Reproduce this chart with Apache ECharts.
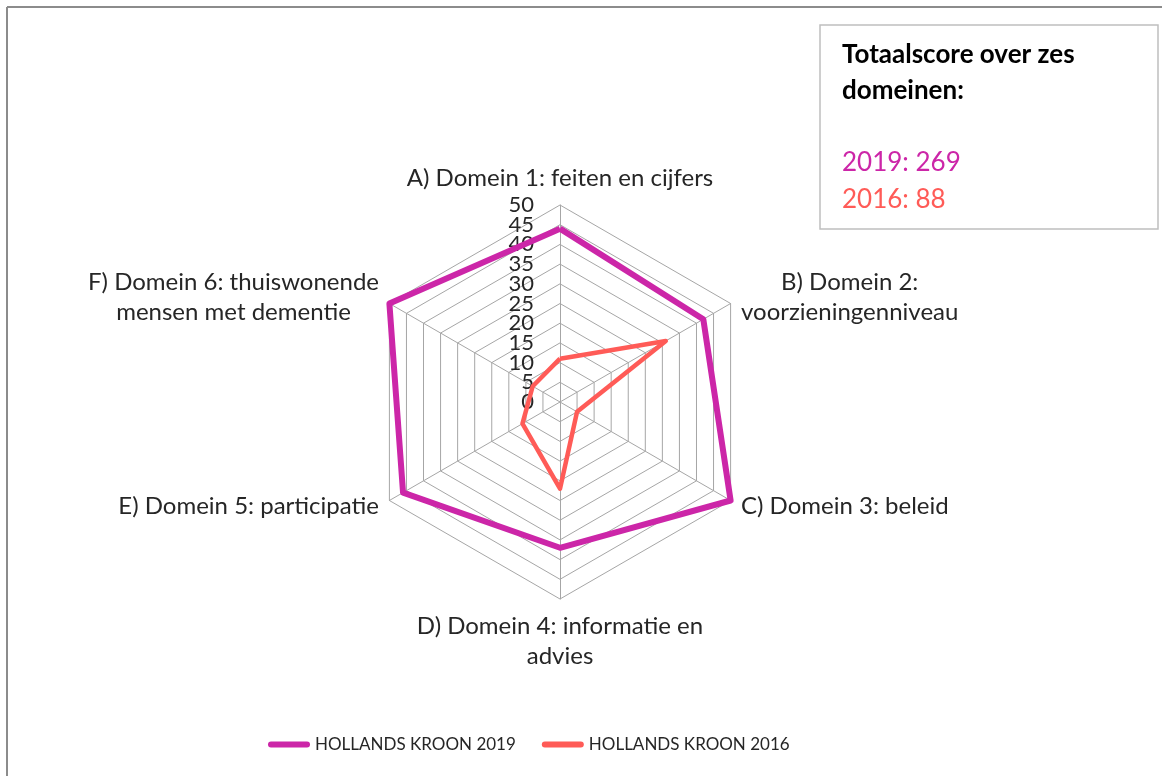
<!DOCTYPE html>
<html>
<head>
<meta charset="utf-8">
<script src="https://cdn.jsdelivr.net/npm/echarts@6/dist/echarts.min.js"></script>
<style>
  html, body { margin: 0; padding: 0; background: #fff; }
  #myChart { width: 1162px; height: 776px; }
</style>
</head>
<body>
<div id="myChart"></div>
<script>
// domeinen (A..F), waarden
var categories = [
  'A) Domein 1: feiten en cijfers',
  'B) Domein 2:\nvoorzieningenniveau',
  'C) Domein 3: beleid',
  'D) Domein 4: informatie en\nadvies',
  'E) Domein 5: participatie',
  'F) Domein 6: thuiswonende\nmensen met dementie'
];
var scores2019 = [44, 42, 50, 37, 46, 50];
var scores2016 = [11, 31, 5, 22, 11, 8];
var seriesNames = ['HOLLANDS KROON 2019', 'HOLLANDS KROON 2016'];
var totals = [269, 88];
var axisMin = 0;
var axisMax = 50;
var axisSteps = 10;

var colors = ['#CC26A8', '#FF5B57'];
var font = 'Lato';
var textColor = '#262626';
var center = [560, 402];
var radius = 197;

// echarts zet de assen tegen de klok in, dus volgorde A, F, E, D, C, B
var order = [0, 5, 4, 3, 2, 1];
function pick(arr) {
  return order.map(function (i) { return arr[i]; });
}

// labels op de bovenste as; echarts verbergt buren van min/max bij overlap,
// daarom een tweede (onzichtbare) radar met alleen 0 en 50
function makeIndicators(endsOnly) {
  return pick(categories).map(function (name, i) {
    var ind = { name: name, max: axisMax, min: axisMin };
    if (i === 0) {
      ind.axisLabel = {
        show: true,
        showMinLabel: endsOnly,
        showMaxLabel: endsOnly,
        margin: 26,
        fontSize: 22,
        fontFamily: font,
        color: textColor,
        formatter: function (v) {
          var isEnd = v === axisMin || v === axisMax;
          return (isEnd === endsOnly) ? String(v) : '';
        }
      };
    }
    return ind;
  });
}

var myChart = echarts.init(document.getElementById('myChart'));
var option = {
  backgroundColor: '#fff',
  animation: false,
  legend: {
    left: 263,
    top: 731,
    itemWidth: 42,
    itemHeight: 6,
    itemGap: 26,
    icon: 'path://M3,0 L39,0 A3,3 0 0 1 39,6 L3,6 A3,3 0 0 1 3,0 Z',
    data: seriesNames,
    textStyle: { fontSize: 17, fontFamily: font, color: textColor }
  },
  radar: [
    {
      center: center,
      radius: radius,
      shape: 'polygon',
      splitNumber: axisSteps,
      indicator: makeIndicators(false),
      axisNameGap: 12,
      axisName: {
        color: textColor,
        fontSize: 24,
        fontFamily: font,
        formatter: function (name) {
          return name.split('\n').map(function (l) { return '{c|' + l + '}'; }).join('\n');
        },
        rich: {
          c: { align: 'center', fontSize: 24, fontFamily: font, color: textColor, lineHeight: 30 }
        }
      },
      axisLine: { lineStyle: { color: '#A6A6A6', width: 1 } },
      splitLine: { lineStyle: { color: '#A6A6A6', width: 1 } },
      splitArea: { show: false },
      axisLabel: { show: false }
    },
    {
      center: center,
      radius: radius,
      shape: 'polygon',
      splitNumber: axisSteps,
      indicator: makeIndicators(true),
      axisName: { show: false },
      axisLine: { show: false },
      axisTick: { show: false },
      splitLine: { show: false },
      splitArea: { show: false },
      axisLabel: { show: false }
    }
  ],
  series: [{
    type: 'radar',
    radarIndex: 0,
    symbol: 'none',
    data: [
      {
        name: seriesNames[0],
        value: pick(scores2019),
        lineStyle: { color: colors[0], width: 6 },
        itemStyle: { color: colors[0] }
      },
      {
        name: seriesNames[1],
        value: pick(scores2016),
        lineStyle: { color: colors[1], width: 4.5 },
        itemStyle: { color: colors[1] }
      }
    ]
  }],
  graphic: [
    { type: 'line', shape: { x1: 7, y1: 7, x2: 1162, y2: 7 }, style: { stroke: '#8C8C8C', lineWidth: 2 } },
    { type: 'line', shape: { x1: 7, y1: 7, x2: 7, y2: 776 }, style: { stroke: '#8C8C8C', lineWidth: 2 } },
    {
      type: 'rect',
      shape: { x: 820, y: 25, width: 338, height: 204 },
      style: { fill: '#fff', stroke: '#BFBFBF', lineWidth: 1.5 }
    },
    {
      type: 'text', left: 842, top: 37,
      style: {
        text: 'Totaalscore over zes\ndomeinen:',
        font: 'bold 26px ' + font,
        fill: '#000',
        lineHeight: 36
      }
    },
    {
      type: 'text', left: 842, top: 145,
      style: { text: '2019: ' + totals[0], font: '26px ' + font, fill: colors[0], lineHeight: 36 }
    },
    {
      type: 'text', left: 842, top: 182,
      style: { text: '2016: ' + totals[1], font: '26px ' + font, fill: colors[1], lineHeight: 36 }
    }
  ]
};
myChart.setOption(option);
</script>
</body>
</html>
